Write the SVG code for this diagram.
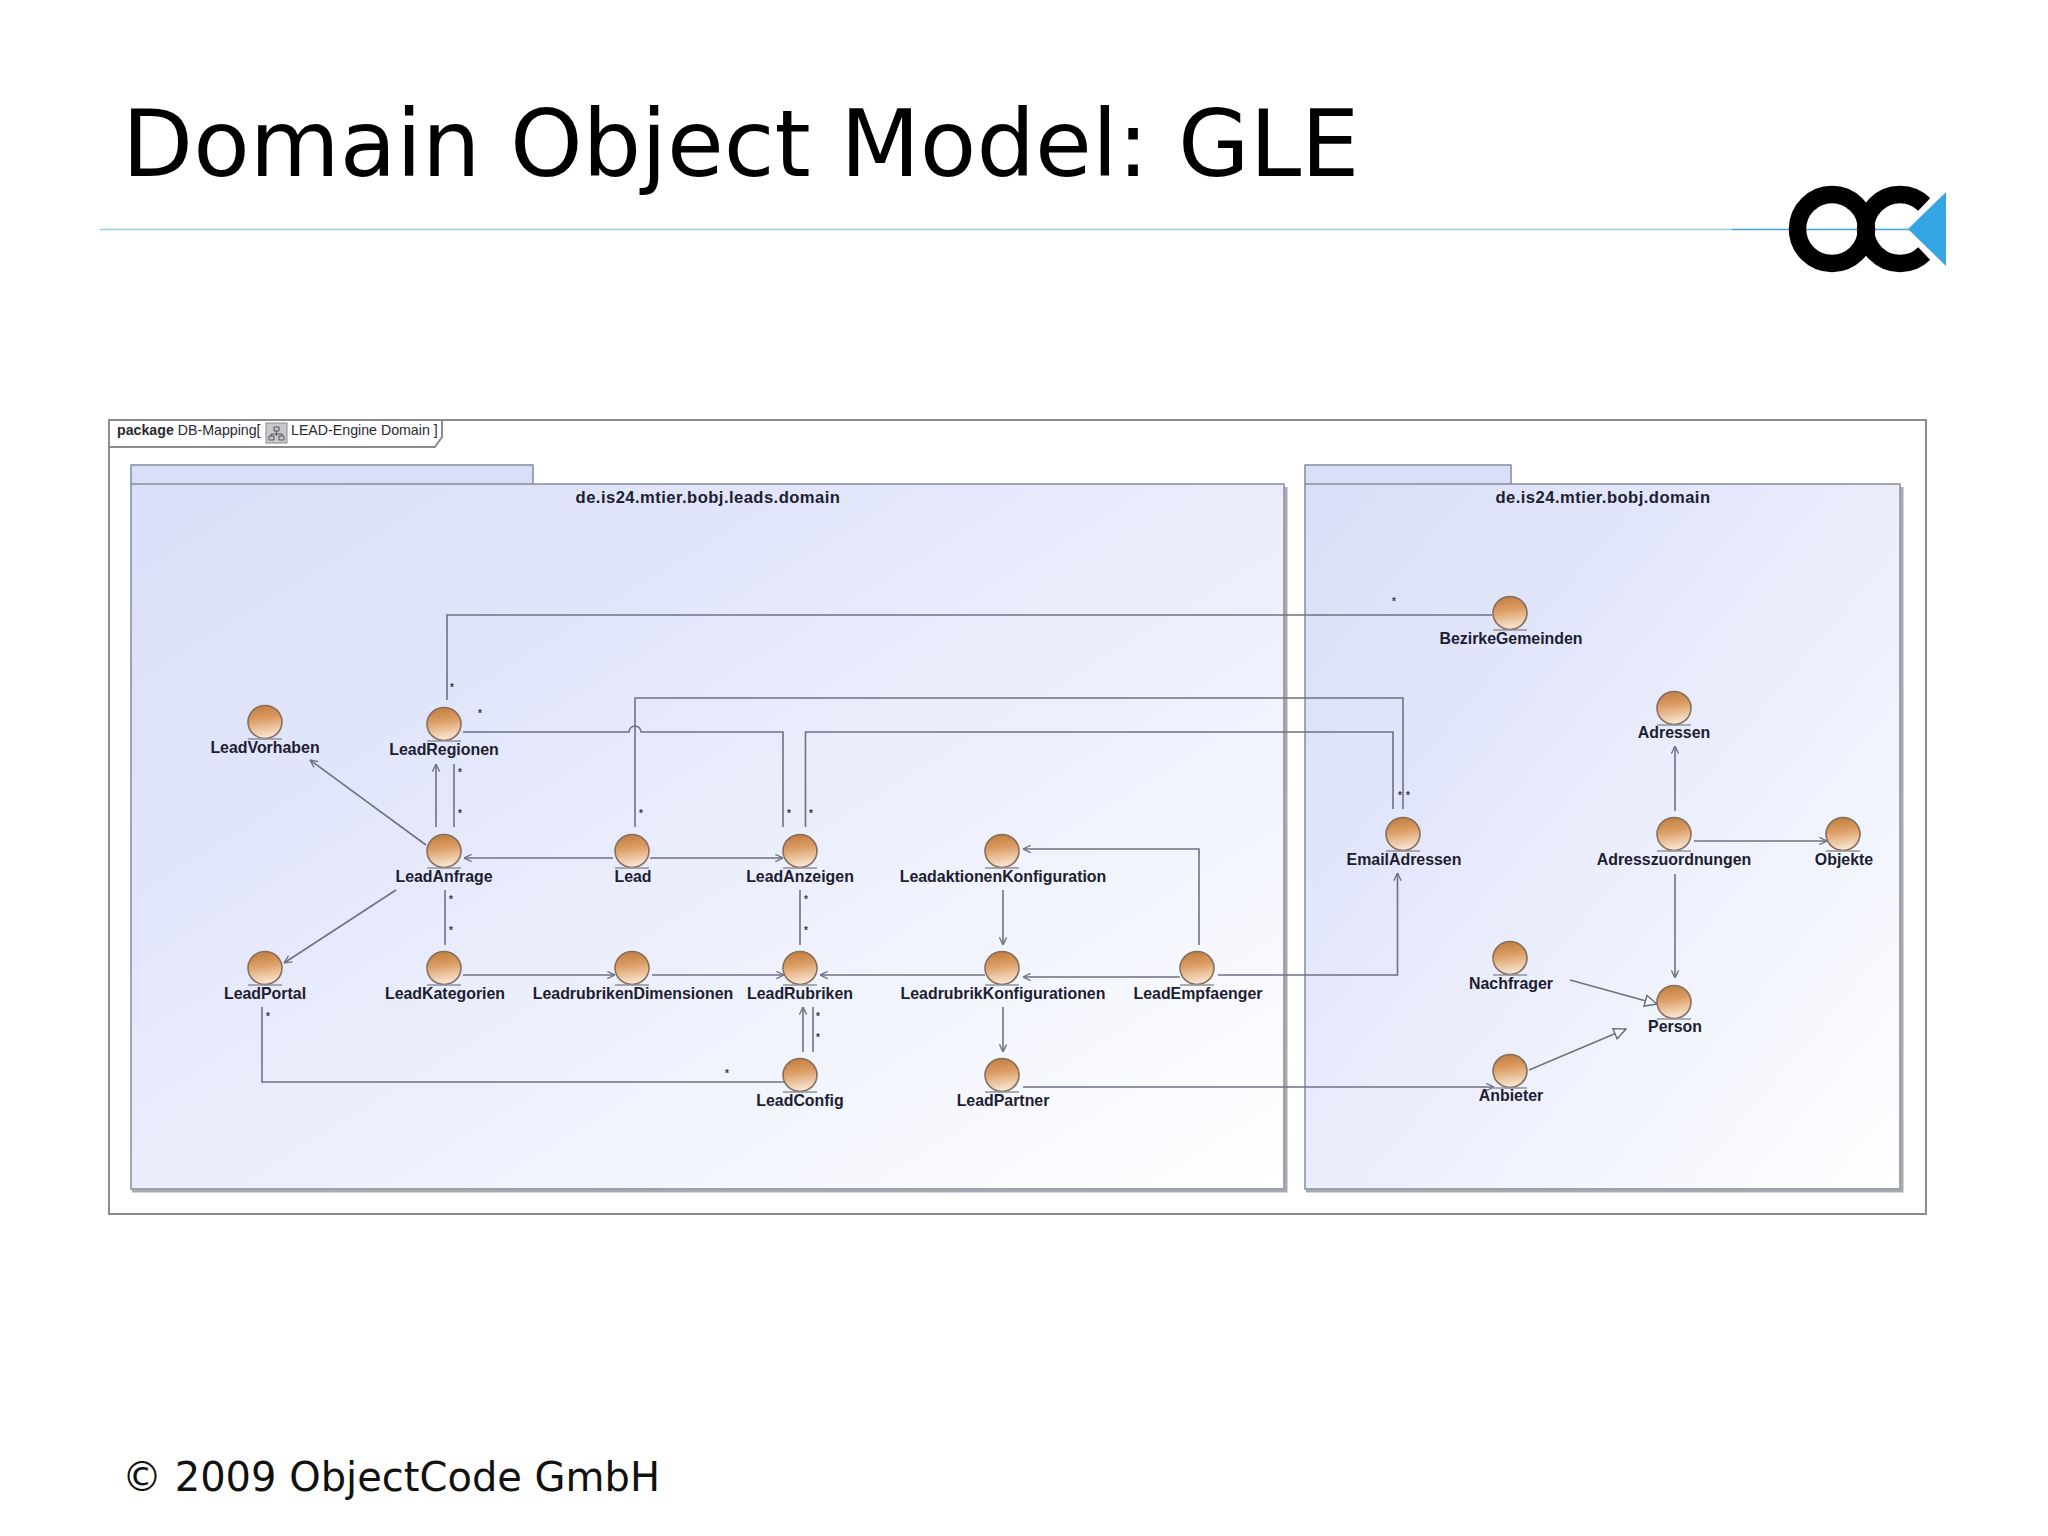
<svg xmlns="http://www.w3.org/2000/svg" width="2048" height="1536" viewBox="0 0 2048 1536">
<defs>
<style>
.title{font-family:"DejaVu Sans",sans-serif;font-size:92.4px;fill:#000}
.foot{font-family:"DejaVu Sans",sans-serif;font-size:40px;fill:#111}
.lbl{font-family:"Liberation Sans",Arial,sans-serif;font-size:15.9px;font-weight:700;fill:#1c2030;text-anchor:middle}
.pkg{font-family:"Liberation Sans",Arial,sans-serif;font-size:16.6px;font-weight:700;fill:#1c2030;text-anchor:middle;letter-spacing:.45px}
.hd{font-family:"Liberation Sans",Arial,sans-serif;font-size:14.2px;fill:#2a2a30}
.m{font-family:"Liberation Sans",Arial,sans-serif;font-size:10px;font-weight:700;fill:#33384a;text-anchor:middle}
.c{fill:none;stroke:#6d7285;stroke-width:1.6}
.a{marker-end:url(#open)}
.g{marker-end:url(#hollow)}
.pb{stroke:#868a9c;stroke-width:1.5}
.sh{fill:none;stroke:#a8aab0;stroke-width:3}
</style>
<linearGradient id="pg" x1="0" y1="0" x2="1" y2="1">
<stop offset="0" stop-color="#d9dff9"/><stop offset=".3" stop-color="#e2e6fa"/><stop offset=".7" stop-color="#f2f4fd"/><stop offset="1" stop-color="#feffff"/>
</linearGradient>
<linearGradient id="eg" x1="0" y1="0" x2=".15" y2="1">
<stop offset="0" stop-color="#bd7a3c"/><stop offset=".45" stop-color="#dc9c62"/><stop offset="1" stop-color="#f8e3cf"/>
</linearGradient>
<marker id="open" viewBox="0 0 10 10" refX="9.5" refY="5" markerWidth="9" markerHeight="9" markerUnits="userSpaceOnUse" orient="auto"><path d="M1 1L9.500 5L1 9" fill="none" stroke="#6d7285" stroke-width="1.5"/></marker>
<marker id="hollow" viewBox="0 0 14 14" refX="13" refY="7" markerWidth="14" markerHeight="14" markerUnits="userSpaceOnUse" orient="auto"><path d="M1 1.500L13 7L1 12.500Z" fill="#f4f6fe" stroke="#5f6478" stroke-width="1.3"/></marker>
<g id="egg"><ellipse cx="0" cy="0" rx="17" ry="16.5" fill="url(#eg)" stroke="#85705f" stroke-width="1.6"/><path d="M-17 17H17" stroke="#8f919a" stroke-width="1.6"/></g>
</defs>
<rect width="2048" height="1536" fill="#fff"/>

<g id="header">
<text class="title" x="122" y="176">Domain Object Model: GLE</text>
<g id="logo">
<circle cx="1900" cy="229" r="34.5" fill="none" stroke="#000" stroke-width="17.5"/>
<path d="M1901 229L1952 175V283Z" fill="#fff"/>
<path d="M100 229.500H1732" stroke="#93c9e8" stroke-width="1.6"/>
<path d="M1732 229.500H1910" stroke="#3fa5dd" stroke-width="1.6"/>
<circle cx="1832" cy="229" r="34.5" fill="none" stroke="#000" stroke-width="17.5"/>
<path d="M1908 229L1946 192V266Z" fill="#35a5e4"/>
</g>
</g>

<g id="frame">
<rect x="109" y="420" width="1817" height="794" fill="#fff" stroke="#8c8c8c" stroke-width="2"/>
<path d="M109 447H435L442 437V420" fill="none" stroke="#8c8c8c" stroke-width="2"/>
<text class="hd" x="117" y="435"><tspan font-weight="700">package</tspan> DB-Mapping[</text>
<g id="frame-icon"><rect x="266" y="423" width="21" height="20" fill="#c9c9cd" stroke="#8a8a90"/><path d="M274 427h5v4h-5zM269 436h5v4h-5zM279 436h5v4h-5zM276.500 431v5M271 436v-2h11v2" fill="none" stroke="#55555c"/></g>
<text class="hd" x="291" y="435">LEAD-Engine Domain ]</text>
</g>

<g id="package-leads">
<path class="sh" d="M1286 487V1191H132"/>
<path class="pb" d="M131 484V465H533V484" fill="#d9dff7"/>
<rect class="pb" x="131" y="484" width="1153" height="705" fill="url(#pg)"/>
<text class="pkg" x="708" y="503">de.is24.mtier.bobj.leads.domain</text>
</g>
<g id="package-domain">
<path class="sh" d="M1902 487V1191H1306"/>
<path class="pb" d="M1305 484V465H1511V484" fill="#d9dff7"/>
<rect class="pb" x="1305" y="484" width="595" height="705" fill="url(#pg)"/>
<text class="pkg" x="1603" y="503">de.is24.mtier.bobj.domain</text>
</g>

<g id="connectors">
<path class="c" d="M1492 615H447V700"/>
<path class="c" d="M463 732H629A6 6 0 0 1 641 732H783V827"/>
<path class="c" d="M635 827V698H1403V809"/>
<path class="c" d="M805.500 827V732H1393V809"/>
<path class="c a" d="M436 827V764"/>
<path class="c" d="M454 764V827"/>
<path class="c a" d="M426 845L310 760"/>
<path class="c a" d="M613 858H464"/>
<path class="c a" d="M650 858H783"/>
<path class="c a" d="M396 890L284 963"/>
<path class="c" d="M445 890V945"/>
<path class="c a" d="M463 975H615"/>
<path class="c a" d="M652 975H784"/>
<path class="c" d="M800 890V945"/>
<path class="c" d="M262 1007V1082H784"/>
<path class="c a" d="M803 1052V1007"/>
<path class="c" d="M813 1007V1052"/>
<path class="c a" d="M985 975H820"/>
<path class="c a" d="M1180 977H1023"/>
<path class="c a" d="M1199 945V849H1023"/>
<path class="c a" d="M1003 890V945"/>
<path class="c a" d="M1003 1007V1052"/>
<path class="c a" d="M1218 975H1397.500V873"/>
<path class="c a" d="M1023 1087H1494"/>
<path class="c a" d="M1675 811V746"/>
<path class="c a" d="M1694 841H1827"/>
<path class="c a" d="M1675 874V978"/>
<path class="c g" d="M1570 980L1657 1004"/>
<path class="c g" d="M1529 1070L1626 1029"/>
<text class="m" x="1394" y="605">*</text>
<text class="m" x="452" y="691">*</text>
<text class="m" x="480" y="717">*</text>
<text class="m" x="460" y="776">*</text>
<text class="m" x="460" y="817">*</text>
<text class="m" x="641" y="817">*</text>
<text class="m" x="789" y="817">*</text>
<text class="m" x="811" y="817">*</text>
<text class="m" x="1400" y="799">*</text>
<text class="m" x="1408" y="799">*</text>
<text class="m" x="451" y="903">*</text>
<text class="m" x="451" y="934">*</text>
<text class="m" x="806" y="903">*</text>
<text class="m" x="806" y="934">*</text>
<text class="m" x="818" y="1020">*</text>
<text class="m" x="818" y="1041">*</text>
<text class="m" x="268" y="1020">*</text>
<text class="m" x="727" y="1077">*</text>
</g>

<g id="LeadVorhaben"><use href="#egg" x="265" y="722"/><text class="lbl" x="265" y="753">LeadVorhaben</text></g>
<g id="LeadRegionen"><use href="#egg" x="444" y="724"/><text class="lbl" x="444" y="755">LeadRegionen</text></g>
<g id="LeadAnfrage"><use href="#egg" x="444" y="851"/><text class="lbl" x="444" y="882">LeadAnfrage</text></g>
<g id="Lead"><use href="#egg" x="632" y="851"/><text class="lbl" x="633" y="882">Lead</text></g>
<g id="LeadAnzeigen"><use href="#egg" x="800" y="851"/><text class="lbl" x="800" y="882">LeadAnzeigen</text></g>
<g id="LeadaktionenKonfiguration"><use href="#egg" x="1002" y="851"/><text class="lbl" x="1003" y="882">LeadaktionenKonfiguration</text></g>
<g id="LeadPortal"><use href="#egg" x="265" y="968"/><text class="lbl" x="265" y="999">LeadPortal</text></g>
<g id="LeadKategorien"><use href="#egg" x="444" y="968"/><text class="lbl" x="445" y="999">LeadKategorien</text></g>
<g id="LeadrubrikenDimensionen"><use href="#egg" x="632" y="968"/><text class="lbl" x="633" y="999">LeadrubrikenDimensionen</text></g>
<g id="LeadRubriken"><use href="#egg" x="800" y="968"/><text class="lbl" x="800" y="999">LeadRubriken</text></g>
<g id="LeadrubrikKonfigurationen"><use href="#egg" x="1002" y="968"/><text class="lbl" x="1003" y="999">LeadrubrikKonfigurationen</text></g>
<g id="LeadEmpfaenger"><use href="#egg" x="1197" y="968"/><text class="lbl" x="1198" y="999">LeadEmpfaenger</text></g>
<g id="LeadConfig"><use href="#egg" x="800" y="1075"/><text class="lbl" x="800" y="1106">LeadConfig</text></g>
<g id="LeadPartner"><use href="#egg" x="1002" y="1075"/><text class="lbl" x="1003" y="1106">LeadPartner</text></g>
<g id="BezirkeGemeinden"><use href="#egg" x="1510" y="613"/><text class="lbl" x="1511" y="644">BezirkeGemeinden</text></g>
<g id="Adressen"><use href="#egg" x="1674" y="708"/><text class="lbl" x="1674" y="738">Adressen</text></g>
<g id="EmailAdressen"><use href="#egg" x="1403" y="834"/><text class="lbl" x="1404" y="865">EmailAdressen</text></g>
<g id="Adresszuordnungen"><use href="#egg" x="1674" y="834"/><text class="lbl" x="1674" y="865">Adresszuordnungen</text></g>
<g id="Objekte"><use href="#egg" x="1843" y="834"/><text class="lbl" x="1844" y="865">Objekte</text></g>
<g id="Nachfrager"><use href="#egg" x="1510" y="958"/><text class="lbl" x="1511" y="989">Nachfrager</text></g>
<g id="Person"><use href="#egg" x="1674" y="1002"/><text class="lbl" x="1675" y="1032">Person</text></g>
<g id="Anbieter"><use href="#egg" x="1510" y="1071"/><text class="lbl" x="1511" y="1101">Anbieter</text></g>

<text class="foot" x="122" y="1491">© 2009 ObjectCode GmbH</text>
</svg>
